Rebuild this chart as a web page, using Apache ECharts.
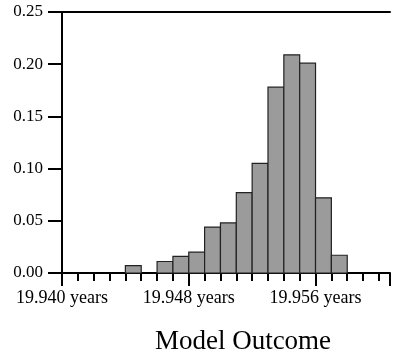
<!DOCTYPE html>
<html>
<head>
<meta charset="utf-8">
<script src="https://cdn.jsdelivr.net/npm/echarts@6/dist/echarts.min.js"></script>
<style>html,body{margin:0;padding:0;background:#fff;}#c{width:393px;height:355px;}</style>
</head>
<body>
<div id="c"></div>
<script>
// Histogram bins (left edge, years) and relative frequencies
var binStarts = [19.944, 19.946, 19.947, 19.948, 19.949, 19.950, 19.951, 19.952, 19.953, 19.954, 19.955, 19.956, 19.957];
var binValues = [0.007, 0.011, 0.016, 0.020, 0.044, 0.048, 0.077, 0.105, 0.178, 0.209, 0.201, 0.072, 0.017];
var binWidth = 0.001;
var xMin = 19.940, xMax = 19.9607;
var xLabelValues = [19.940, 19.948, 19.956];
var yTicks = [0.00, 0.05, 0.10, 0.15, 0.20, 0.25];
var xTitle = 'Model Outcome';

var font = 'Liberation Serif';
var chart = echarts.init(document.getElementById('c'));
var data = binStarts.map(function (s, i) { return [s, s + binWidth, binValues[i]]; });

chart.setOption({
  animation: false,
  backgroundColor: '#fff',
  title: {
    text: xTitle, left: 238, top: 323, textAlign: 'center',
    textStyle: { fontFamily: font, fontSize: 27, fontWeight: 'normal', color: '#000' }
  },
  grid: { left: 62, right: 0, top: 12, bottom: 82, containLabel: false },
  xAxis: [
    {
      type: 'value', min: xMin, max: xMax, interval: 0.001, position: 'bottom',
      axisLine: { show: true, lineStyle: { color: '#000', width: 2 } },
      axisTick: { show: true, length: 8, lineStyle: { color: '#000', width: 2 } },
      axisLabel: { show: false },
      splitLine: { show: false }
    },
    {
      type: 'value', min: xMin, max: xMax, interval: 0.008, position: 'bottom', offset: 0,
      axisLine: { show: false },
      axisTick: { show: true, length: 13, lineStyle: { color: '#000', width: 2 } },
      axisLabel: {
        show: true, margin: 16, color: '#000', fontFamily: font, fontSize: 18,
        formatter: function (v) {
          for (var i = 0; i < xLabelValues.length; i++) {
            if (Math.abs(v - xLabelValues[i]) < 1e-6) return xLabelValues[i].toFixed(3) + ' years';
          }
          return '';
        }
      },
      splitLine: { show: false }
    },
    {
      type: 'value', min: xMin, max: xMax, position: 'top',
      axisLine: { show: true, lineStyle: { color: '#000', width: 2 } },
      axisTick: { show: false }, axisLabel: { show: false }, splitLine: { show: false }
    }
  ],
  yAxis: {
    type: 'value', min: 0, max: 0.25, interval: 0.05,
    axisLine: { show: true, lineStyle: { color: '#000', width: 2 } },
    axisTick: { show: true, length: 14, lineStyle: { color: '#000', width: 2 } },
    axisLabel: {
      margin: 19, color: '#000', fontFamily: font, fontSize: 17,
      formatter: function (v) { return v.toFixed(2); }
    },
    splitLine: { show: false }
  },
  series: [{
    type: 'custom',
    xAxisIndex: 0,
    data: data,
    encode: { x: [0, 1], y: 2 },
    renderItem: function (params, api) {
      var p0 = api.coord([api.value(0), 0]);
      var p1 = api.coord([api.value(1), api.value(2)]);
      return {
        type: 'rect',
        shape: { x: p0[0], y: p1[1], width: p1[0] - p0[0], height: p0[1] - p1[1] },
        style: { fill: '#9b9b9b', stroke: '#222', lineWidth: 1.2 }
      };
    }
  }]
});
</script>
</body>
</html>
